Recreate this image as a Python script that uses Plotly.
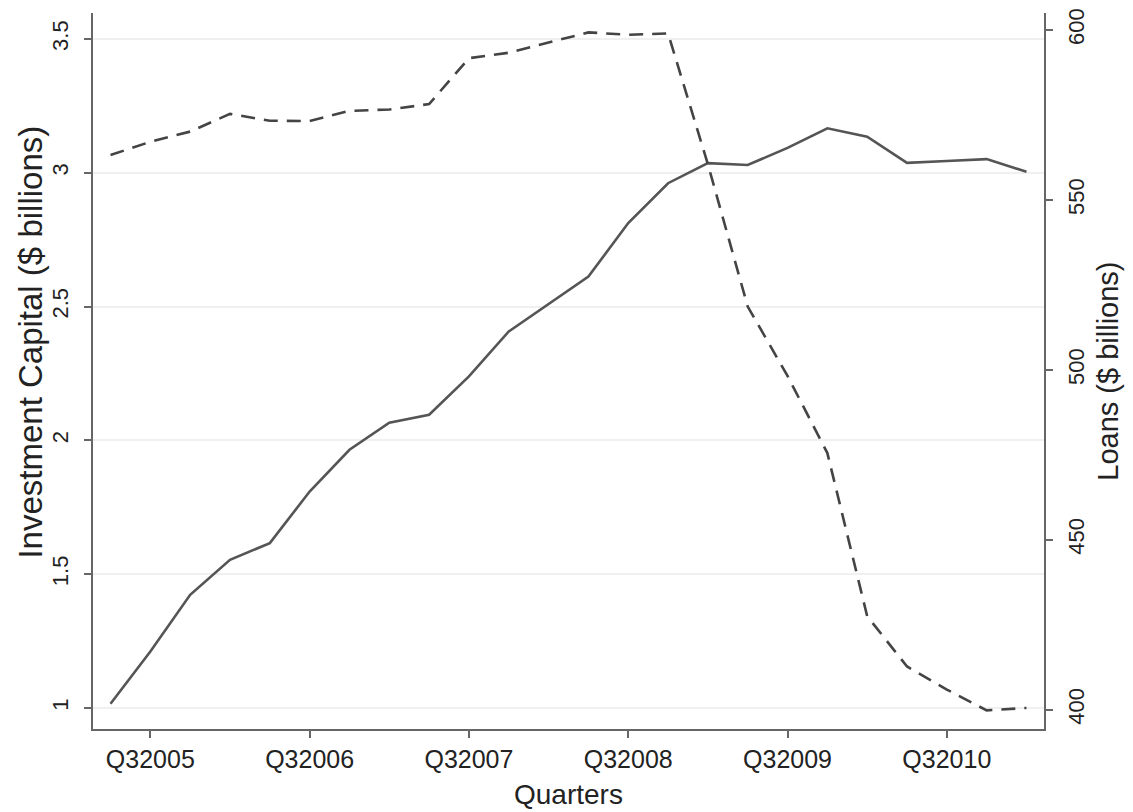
import plotly.graph_objects as go

quarters = ["Q22005", "Q32005", "Q42005", "Q12006", "Q22006", "Q32006", "Q42006", "Q12007",
            "Q22007", "Q32007", "Q42007", "Q12008", "Q22008", "Q32008", "Q42008", "Q12009",
            "Q22009", "Q32009", "Q42009", "Q12010", "Q22010", "Q32010", "Q42010", "Q12011"]

investment_capital = [1.016, 1.211, 1.423, 1.554, 1.616, 1.809, 1.965, 2.066, 2.096, 2.239, 2.407, 2.510,
                      2.612, 2.812, 2.961, 3.036, 3.029, 3.093, 3.166, 3.135, 3.037, 3.044, 3.051, 3.004]

loans = [563.2, 567.1, 570.1, 575.3, 573.3, 573.2, 576.2, 576.6, 578.2, 591.7, 593.3, 596.3,
         599.3, 598.6, 599.0, 560.5, 518.6, 498.2, 475.5, 427.5, 412.7, 405.9, 399.8, 400.5]

left_ticks = [1, 1.5, 2, 2.5, 3, 3.5]
left_tick_text = ["1", "1.5", "2", "2.5", "3", "3.5"]
right_ticks = [400, 450, 500, 550, 600]
x_ticks = quarters[1::4]

line_color = "#555555"
axis_color = "#666666"
text_color = "#222222"
font_family = "Liberation Sans, Arial, Helvetica, sans-serif"

fig = go.Figure()
fig.add_trace(go.Scatter(x=quarters, y=investment_capital, mode="lines",
                         line=dict(color=line_color, width=2.6), name="Investment Capital",
                         yaxis="y"))
fig.add_trace(go.Scatter(x=quarters, y=loans, mode="lines",
                         line=dict(color="#444444", width=2.6, dash="14px,9px"), name="Loans",
                         yaxis="y2"))

common_axis = dict(showline=True, linecolor=axis_color, linewidth=2, zeroline=False,
                   ticks="outside", ticklen=7, tickwidth=2, tickcolor=axis_color,
                   automargin=False)

# the page body has an 8px margin, so the figure is sized to fit inside the window
fig.update_layout(
    width=1125, height=804,
    margin=dict(l=85, r=89, t=5, b=83),
    paper_bgcolor="white", plot_bgcolor="white",
    showlegend=False,
    font=dict(family=font_family, size=22, color=text_color),
    xaxis=dict(type="category", categoryorder="array", categoryarray=quarters,
               range=[-0.44, 23.44], tickmode="array", tickvals=x_ticks, ticktext=x_ticks,
               showgrid=False, tickfont=dict(size=25), **common_axis),
    yaxis=dict(range=[0.9216, 3.597], tickmode="array", tickvals=left_ticks, ticktext=left_tick_text,
               tickangle=-90, showgrid=True, gridcolor="#f0f0f0", gridwidth=2,
               tickfont=dict(size=22), ticklabelstandoff=7, **common_axis),
    yaxis2=dict(range=[394.3, 605], overlaying="y", side="right", tickmode="array",
                tickvals=right_ticks, tickangle=-90, showgrid=False,
                tickfont=dict(size=22), ticklabelstandoff=5, **common_axis),
    annotations=[
        dict(text="Investment Capital ($ billions)", xref="paper", yref="paper",
             x=-0.066, y=0.54, xanchor="center", yanchor="middle", textangle=-90,
             showarrow=False, font=dict(size=33, color=text_color)),
        dict(text="Loans ($ billions)", xref="paper", yref="paper",
             x=1.067, y=0.5, xanchor="center", yanchor="middle", textangle=-90,
             showarrow=False, font=dict(size=29, color=text_color)),
        dict(text="Quarters", xref="paper", yref="paper",
             x=0.5, y=-0.092, xanchor="center", yanchor="middle",
             showarrow=False, font=dict(size=28, color=text_color)),
    ],
)

fig.write_html("out.html")
